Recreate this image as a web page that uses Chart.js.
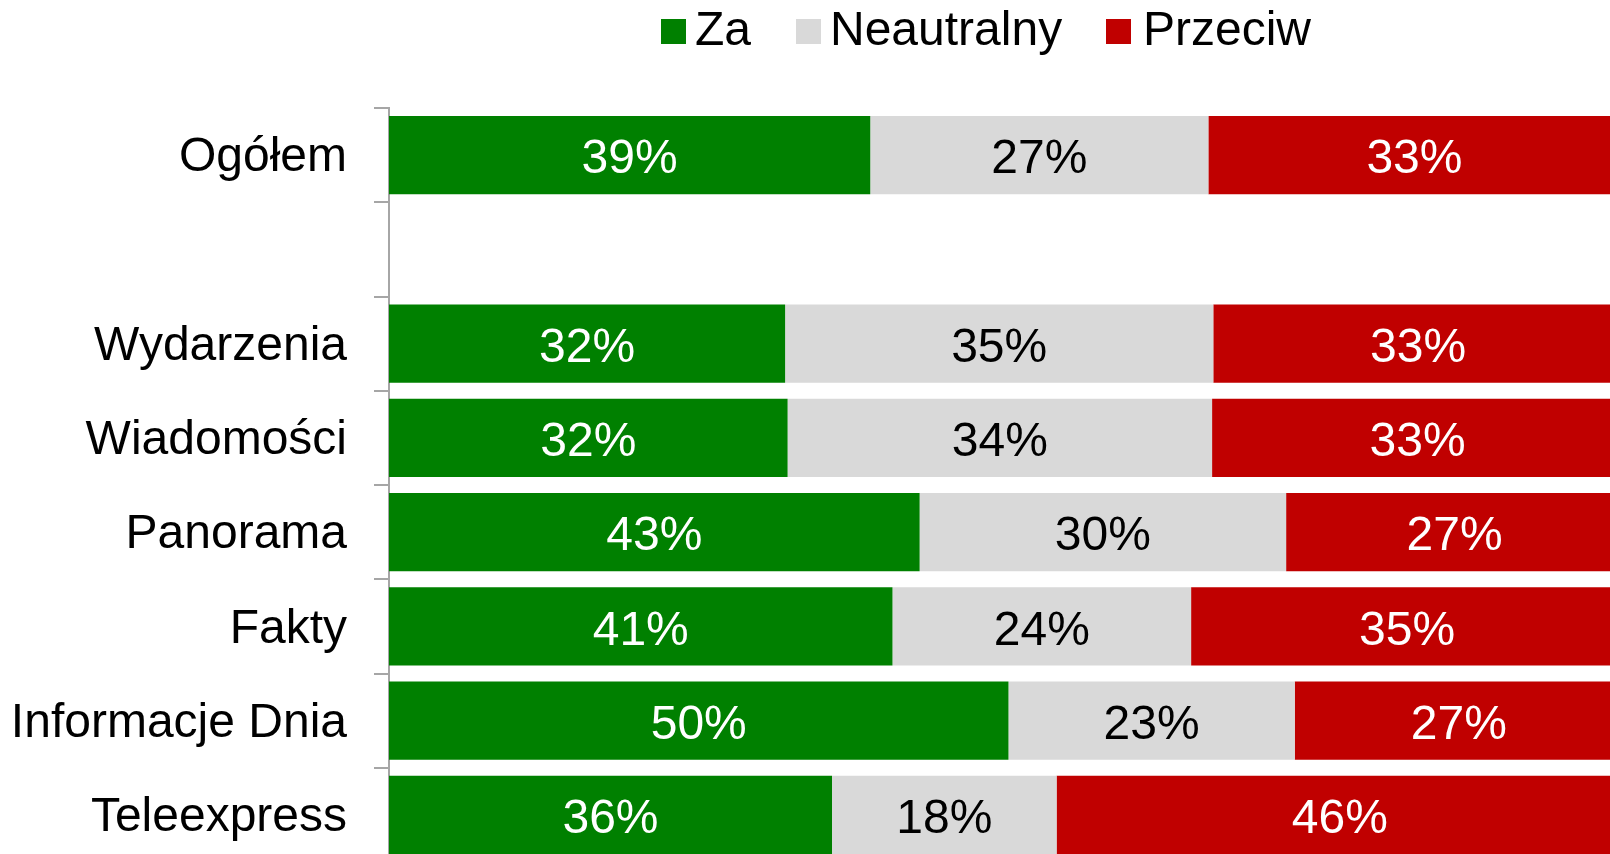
<!DOCTYPE html>
<html>
<head>
<meta charset="utf-8">
<script src="https://cdn.jsdelivr.net/npm/chart.js@4.4.1/dist/chart.umd.min.js"></script>
<style>
  html, body { margin: 0; padding: 0; background: #ffffff; overflow: hidden; width: 1610px; height: 854px; }
  #wrap { position: absolute; left: 0; top: 0; width: 1623px; height: 862px; }
  .lg { position: absolute; font-family: "Liberation Sans", Arial, sans-serif; font-size: 48px; line-height: 48px; color: #000; white-space: nowrap; }
  .sq { position: absolute; width: 25px; height: 25px; top: 19px; }
</style>
</head>
<body>
<div id="wrap"><canvas id="c" width="1623" height="862"></canvas></div>
<div class="sq" style="left:661px;background:#008000"></div>
<div class="lg" style="left:695px;top:5px">Za</div>
<div class="sq" style="left:796px;background:#D9D9D9"></div>
<div class="lg" style="left:830px;top:5px">Neautralny</div>
<div class="sq" style="left:1106px;background:#C00000"></div>
<div class="lg" style="left:1143px;top:5px">Przeciw</div>
<script>
const categories = ['Ogółem', '', 'Wydarzenia', 'Wiadomości', 'Panorama', 'Fakty', 'Informacje Dnia', 'Teleexpress'];
const seriesNames = ['Za', 'Neautralny', 'Przeciw'];
const za        = [39.0, null, 32.1, 32.3, 43.0, 40.8, 50.2, 35.9];
const neutralny = [27.4, null, 34.7, 34.4, 29.7, 24.2, 23.2, 18.2];
const przeciw   = [33.4, null, 33.2, 33.3, 27.3, 35.0, 26.6, 45.9];
const colors = ['#008000', '#D9D9D9', '#C00000'];
const labelColors = ['#FFFFFF', '#000000', '#FFFFFF'];

Chart.defaults.font.family = '"Liberation Sans", Arial, sans-serif';

const barLabels = {
  id: 'barLabels',
  afterDatasetsDraw(chart) {
    const ctx = chart.ctx;
    ctx.save();
    ctx.font = '48px "Liberation Sans", Arial, sans-serif';
    ctx.textAlign = 'center';
    ctx.textBaseline = 'middle';
    chart.data.datasets.forEach((ds, di) => {
      const meta = chart.getDatasetMeta(di);
      meta.data.forEach((el, i) => {
        const v = ds.data[i];
        if (v === null || v === undefined) return;
        const p = el.getProps(['x', 'y', 'base'], true);
        ctx.fillStyle = labelColors[di];
        ctx.fillText(Math.round(v) + '%', (p.x + p.base) / 2, p.y + 5);
      });
    });
    ctx.restore();
  }
};

new Chart(document.getElementById('c'), {
  type: 'bar',
  data: {
    labels: categories,
    datasets: [za, neutralny, przeciw].map((d, i) => ({
      label: seriesNames[i],
      data: d,
      backgroundColor: colors[i],
      borderWidth: 0,
      barPercentage: 0.828,
      categoryPercentage: 1.0
    }))
  },
  options: {
    indexAxis: 'y',
    responsive: false,
    animation: false,
    devicePixelRatio: 1,
    layout: { padding: { top: 108, left: 0, right: 0, bottom: 0 } },
    plugins: { legend: { display: false }, tooltip: { enabled: false } },
    scales: {
      x: { stacked: true, min: 0, max: 100, display: false },
      y: {
        stacked: true,
        afterFit(scale) { scale.width = 389; scale.paddingTop = 0; scale.paddingBottom = 0; },
        border: { display: true, color: '#A6A6A6', width: 2 },
        grid: { display: true, drawOnChartArea: false, drawTicks: true, tickLength: 15, color: '#A6A6A6', lineWidth: 2 },
        ticks: { color: '#000000', padding: 27, labelOffset: 3, font: { size: 48 } }
      }
    }
  },
  plugins: [barLabels]
});
</script>
</body>
</html>
